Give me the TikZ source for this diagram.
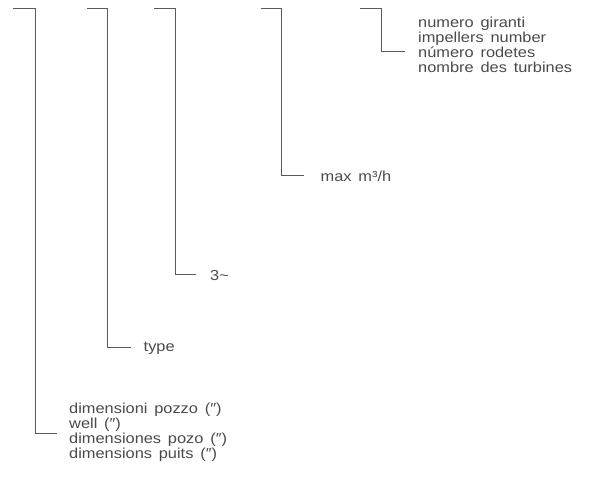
\documentclass[tikz,border=0pt]{standalone}
\usepackage{fontspec}
\setmainfont{Liberation Sans}[FakeStretch=1.13,WordSpace=1.5]
\definecolor{linegray}{HTML}{5A5A5A}
\definecolor{textgray}{HTML}{4A4A4A}

\begin{document}
\begin{tikzpicture}[x=1pt,y=-1pt,
    bracket/.style={draw=linegray, line width=0.8pt},
    lbl/.style={text=textgray, align=left, anchor=base west, inner sep=0pt,
      font=\fontsize{14.5}{15}\selectfont}]
  \useasboundingbox (0,0) rectangle (589,478);
  % well size
  \coordinate (w0) at (13,8.5);
  \coordinate (w1) at (35,433);
  \coordinate (w2) at (57,433);
  \node[lbl] (wtxt) at (69,458) {dimensioni pozzo (″)\\well (″)\\dimensiones pozo (″)\\dimensions puits (″)};
  \draw[bracket] (w0) -| (w1) -- (w2);
  % type
  \coordinate (t0) at (87,8.5);
  \coordinate (t1) at (107.5,347.5);
  \coordinate (t2) at (130.5,347.5);
  \node[lbl] (ttxt) at (143.5,351) {type};
  \draw[bracket] (t0) -| (t1) -- (t2);
  % phases
  \coordinate (p0) at (154,8.5);
  \coordinate (p1) at (175,274.5);
  \coordinate (p2) at (196,274.5);
  \node[lbl] (ptxt) at (210,281) {3\textasciitilde};
  \draw[bracket] (p0) -| (p1) -- (p2);
  % flow
  \coordinate (q0) at (260.5,8.5);
  \coordinate (q1) at (281.5,175);
  \coordinate (q2) at (304,175);
  \node[lbl] (qtxt) at (320.5,182) {max m³/h};
  \draw[bracket] (q0) -| (q1) -- (q2);
  % impellers
  \coordinate (n0) at (360,8.5);
  \coordinate (n1) at (381.5,51);
  \coordinate (n2) at (404.5,51);
  \node[lbl] (ntxt) at (418,72.5) {numero giranti\\impellers number\\número rodetes\\nombre des turbines};
  \draw[bracket] (n0) -| (n1) -- (n2);
\end{tikzpicture}
\end{document}
